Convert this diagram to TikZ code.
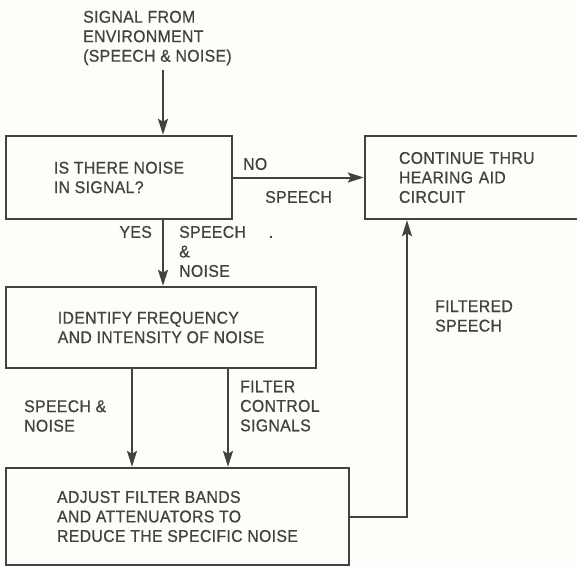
\documentclass[tikz,border=0pt]{standalone}
\usepackage{fontspec}
\setmainfont{Liberation Sans}[FakeStretch=0.93, FakeBold=0.7, LetterSpace=2]
\usetikzlibrary{positioning,arrows.meta}
\definecolor{ink}{RGB}{66,66,64}
\definecolor{paper}{RGB}{253,253,250}

\begin{document}
\begin{tikzpicture}[
    x=1pt, y=-1pt,
    every node/.style={font=\fontsize{17}{19.5}\selectfont, text=ink},
    box/.style={
        draw=ink,
        line width=2.4pt,
        align=left,
        inner sep=0pt
    },
    lbl/.style={align=left, inner sep=0pt, anchor=west},
    flow/.style={-{Stealth[length=16pt,width=10pt,inset=3pt]}, line width=2pt, draw=ink}
]
\fill[paper] (0,0) rectangle (577,567);
\clip (0,0) rectangle (577,567);

% boxes
\node[box, minimum width=226pt, minimum height=83pt] (noise) at (119,177.5)
{IS THERE NOISE\\IN SIGNAL?};
\node[box, right=130.6pt of noise, text width=180pt, inner xsep=34pt, minimum height=83pt] (cont)
{CONTINUE THRU\\HEARING AID\\CIRCUIT};
\node[box, minimum width=310pt, minimum height=81pt,
      below=65.6pt of noise.south west, anchor=north west] (ident)
{IDENTIFY FREQUENCY\\AND INTENSITY OF NOISE};
\node[box, minimum width=343pt, minimum height=97pt,
      below=97.6pt of ident.south west, anchor=north west] (adjust)
{ADJUST FILTER BANDS\\AND ATTENUATORS TO\\REDUCE THE SPECIFIC NOISE};

% labels
\node[lbl] (src) at (83,38) {SIGNAL FROM\\ENVIRONMENT\\(SPEECH \& NOISE)};
\node[lbl] (no) at (243,164) {NO};
\node[lbl] (speech) at (265,197) {SPEECH};
\node[lbl, anchor=east] (yes) at (152,232) {YES};
\node[lbl] (sn) at (179,251.5) {SPEECH\\\&\\NOISE};
\node[inner sep=0pt] (dot) at (271,237) {.};
\node[lbl] (snleft) at (24,416) {SPEECH \&\\NOISE};
\node[lbl] (fcs) at (240,406) {FILTER\\CONTROL\\SIGNALS};
\node[lbl] (fs) at (435,316) {FILTERED\\SPEECH};

% connectors
\coordinate (in) at (163,70);
\draw[flow] (in) -- (noise.north -| in);
\draw[flow] (noise.south -| in) -- (ident.north -| in);
\draw[flow] (noise) -- (cont);
\draw[flow] (ident.south -| 132,0) -- (adjust.north -| 132,0);
\draw[flow] (ident.south -| 228,0) -- (adjust.north -| 228,0);
\draw[flow] (adjust.east) -| (cont.south -| 407,0);
\end{tikzpicture}
\end{document}
